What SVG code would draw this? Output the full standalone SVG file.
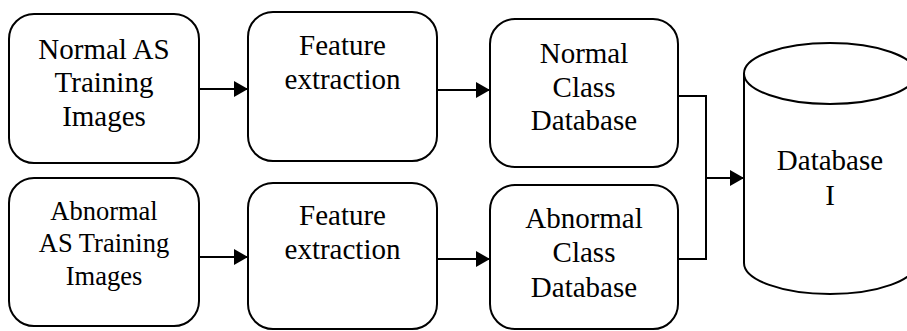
<svg xmlns="http://www.w3.org/2000/svg" width="907" height="331" viewBox="0 0 907 331">
<style>
.box{fill:#fff;stroke:#000;stroke-width:2}
text{font-family:'Liberation Serif','DejaVu Serif',serif;font-size:29px;fill:#000;text-anchor:middle}
.s{font-size:26.5px}
.c{fill:none;stroke:#000;stroke-width:2}
</style>
<defs>
<marker id="ah" markerUnits="userSpaceOnUse" markerWidth="14" markerHeight="16" refX="14" refY="8" orient="auto">
<path d="M0,0 L14,8 L0,16 Z" fill="#000"/>
</marker>
</defs>
<rect width="907" height="331" fill="#fff"/>
<g id="connectors">
<line class="c" x1="199" y1="89" x2="248" y2="89" marker-end="url(#ah)"/>
<line class="c" x1="437" y1="90" x2="490" y2="90" marker-end="url(#ah)"/>
<line class="c" x1="199" y1="257" x2="248" y2="257" marker-end="url(#ah)"/>
<line class="c" x1="437" y1="259" x2="490" y2="259" marker-end="url(#ah)"/>
<polyline class="c" points="678,96 706,96 706,259 678,259"/>
<line class="c" x1="706" y1="178" x2="744" y2="178" marker-end="url(#ah)"/>
</g>
<g id="normal-images">
<rect class="box" x="9" y="14" width="190" height="149" rx="25"/>
<text x="104" y="59">Normal AS</text>
<text x="104" y="92">Training</text>
<text x="104" y="126">Images</text>
</g>
<g id="feature-1">
<rect class="box" x="248" y="12" width="189" height="149" rx="25"/>
<text x="342.5" y="55">Feature</text>
<text x="342.5" y="89">extraction</text>
</g>
<g id="normal-db">
<rect class="box" x="490" y="19" width="188" height="148" rx="25"/>
<text x="584" y="63">Normal</text>
<text x="584" y="97">Class</text>
<text x="584" y="130">Database</text>
</g>
<g id="abnormal-images">
<rect class="box" x="9" y="178" width="190" height="148" rx="25"/>
<text class="s" x="104" y="220">Abnormal</text>
<text class="s" x="104" y="252">AS Training</text>
<text class="s" x="104" y="285">Images</text>
</g>
<g id="feature-2">
<rect class="box" x="248" y="183" width="189" height="146" rx="25"/>
<text x="342.5" y="225">Feature</text>
<text x="342.5" y="259">extraction</text>
</g>
<g id="abnormal-db">
<rect class="box" x="490" y="185" width="188" height="144" rx="25"/>
<text x="584" y="228">Abnormal</text>
<text x="584" y="262">Class</text>
<text x="584" y="297">Database</text>
</g>
<g id="database-i">
<path class="box" d="M744,73.5 L744,263 A86,31 0 0 0 916,263 L916,73.5"/>
<ellipse class="box" cx="830" cy="73.5" rx="86" ry="30.5"/>
<text x="830" y="170">Database</text>
<text x="830" y="205">I</text>
</g>
</svg>
